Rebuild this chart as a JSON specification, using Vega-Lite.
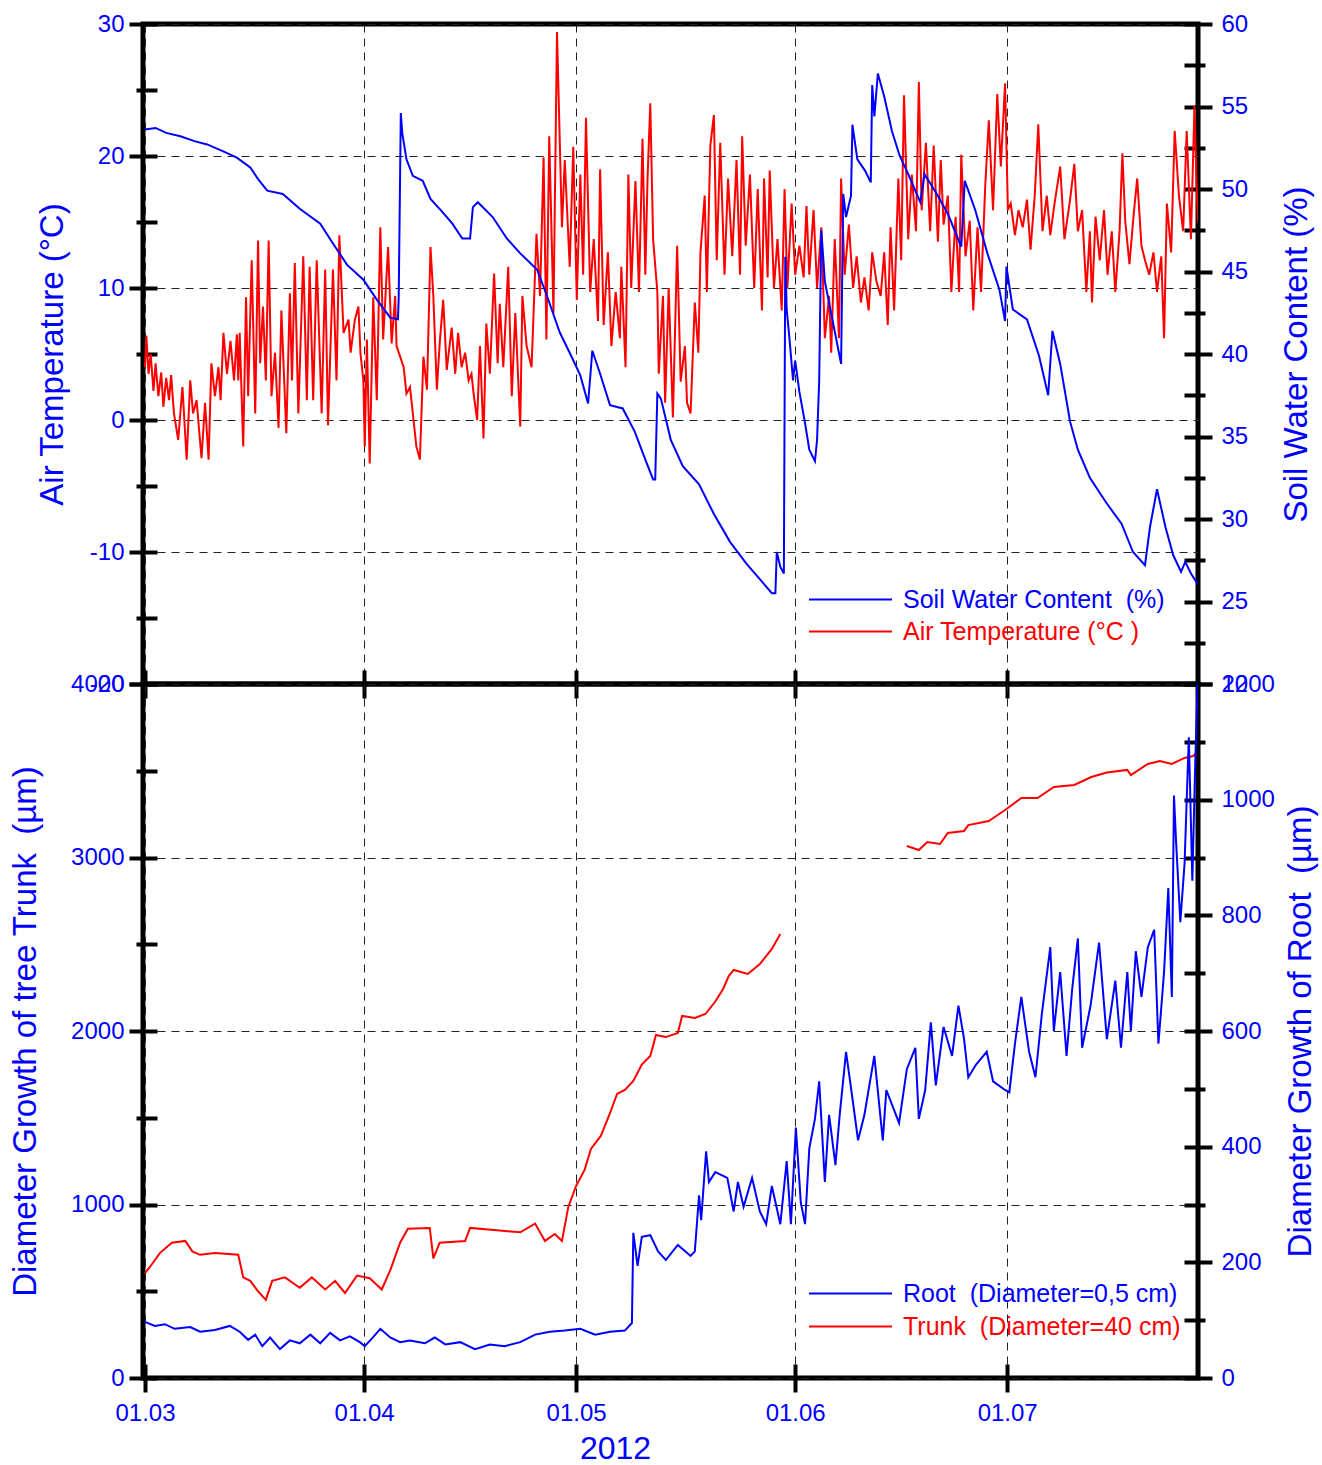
{
"$schema": "https://vega.github.io/schema/vega-lite/v6.json",
"background": "white",
"padding": {"left": 7, "top": 9, "right": 5, "bottom": 5},
"config": {
  "font": "Liberation Sans",
  "view": {"stroke": "black", "strokeWidth": 5},
  "axis": {"labelFont": "Liberation Sans", "titleFont": "Liberation Sans", "labelColor": "#0000ff", "titleColor": "#0000ff", "labelFontSize": 24, "titleFontSize": 33, "titleFontWeight": "normal", "tickColor": "black", "tickWidth": 4, "domain": false, "gridColor": "#222222", "gridDash": [8, 6], "gridWidth": 1, "labelOverlap": false, "labelFlush": false},
  "legend": {"labelFont": "Liberation Sans", "labelFontSize": 25, "labelLimit": 600, "symbolType": "stroke", "symbolSize": 6889, "symbolStrokeWidth": 2, "labelOffset": 10, "padding": 0, "orient": "none", "title": null}
},
"datasets": {
  "tempData": [
{"day":0,"value":4.0},{"day":0.2,"value":6.4},{"day":0.5,"value":3.5},{"day":0.8,"value":5.0},{"day":1.2,"value":2.2},{"day":1.5,"value":4.3},{"day":1.9,"value":1.8},{"day":2.3,"value":3.6},{"day":2.6,"value":1.0},{"day":3.0,"value":3.2},{"day":3.4,"value":1.5},{"day":3.7,"value":3.4},{"day":4.1,"value":0.5},{"day":4.7,"value":-1.5},{"day":5.3,"value":2.5},{"day":5.9,"value":-3.0},{"day":6.4,"value":3.0},{"day":6.8,"value":0.5},{"day":7.3,"value":1.5},{"day":8.0,"value":-2.9},{"day":8.5,"value":1.3},{"day":9.0,"value":-3.0},{"day":9.4,"value":4.3},{"day":9.9,"value":1.8},{"day":10.4,"value":4.0},{"day":10.7,"value":1.5},{"day":11.1,"value":6.6},{"day":11.6,"value":3.5},{"day":12.1,"value":6.0},{"day":12.6,"value":3.0},{"day":13.0,"value":6.5},{"day":13.2,"value":3.0},{"day":13.4,"value":6.6},{"day":13.9,"value":-2.0},{"day":14.3,"value":9.3},{"day":14.6,"value":1.8},{"day":15.1,"value":12.1},{"day":15.6,"value":0.5},{"day":16.0,"value":13.6},{"day":16.3,"value":4.3},{"day":16.7,"value":8.6},{"day":17.1,"value":3.0},{"day":17.5,"value":13.6},{"day":17.9,"value":1.8},{"day":18.4,"value":5.1},{"day":18.9,"value":-0.6},{"day":19.3,"value":8.3},{"day":20.0,"value":-1.0},{"day":20.5,"value":9.6},{"day":20.8,"value":3.0},{"day":21.2,"value":11.9},{"day":21.7,"value":0.5},{"day":22.4,"value":12.4},{"day":22.9,"value":1.5},{"day":23.3,"value":11.6},{"day":23.8,"value":1.5},{"day":24.3,"value":12.1},{"day":25.0,"value":0.5},{"day":25.5,"value":11.4},{"day":25.9,"value":-0.4},{"day":26.6,"value":11.4},{"day":27.1,"value":3.0},{"day":27.5,"value":14.0},{"day":28.1,"value":6.6},{"day":28.8,"value":7.6},{"day":29.1,"value":5.1},{"day":29.7,"value":7.6},{"day":30.2,"value":8.6},{"day":30.5,"value":5.0},{"day":30.9,"value":3.0},{"day":31.1,"value":-2.0},{"day":31.4,"value":6.1},{"day":31.8,"value":-3.3},{"day":32.3,"value":9.3},{"day":32.8,"value":1.5},{"day":33.3,"value":14.6},{"day":33.7,"value":6.1},{"day":34.4,"value":13.1},{"day":34.9,"value":5.8},{"day":35.4,"value":9.4},{"day":35.6,"value":5.6},{"day":36.1,"value":4.8},{"day":36.6,"value":4.0},{"day":37.0,"value":2.0},{"day":37.5,"value":2.5},{"day":38.0,"value":0.0},{"day":38.4,"value":-2.0},{"day":38.9,"value":-3.0},{"day":39.4,"value":4.8},{"day":39.9,"value":2.3},{"day":40.4,"value":13.1},{"day":40.8,"value":9.4},{"day":41.3,"value":2.3},{"day":41.7,"value":5.8},{"day":42.2,"value":9.1},{"day":42.7,"value":3.8},{"day":43.4,"value":7.0},{"day":43.9,"value":3.5},{"day":44.3,"value":6.6},{"day":44.8,"value":4.0},{"day":45.3,"value":5.1},{"day":45.8,"value":3.0},{"day":46.2,"value":3.5},{"day":46.5,"value":2.0},{"day":47.0,"value":0.0},{"day":47.4,"value":5.6},{"day":47.9,"value":-1.4},{"day":48.3,"value":7.3},{"day":48.8,"value":3.5},{"day":49.4,"value":11.1},{"day":49.9,"value":4.3},{"day":50.2,"value":8.8},{"day":50.7,"value":4.0},{"day":51.4,"value":11.6},{"day":51.9,"value":1.8},{"day":52.4,"value":8.1},{"day":53.1,"value":-0.5},{"day":53.4,"value":9.4},{"day":54.0,"value":5.6},{"day":54.7,"value":4.0},{"day":55.4,"value":14.1},{"day":55.9,"value":9.4},{"day":56.4,"value":19.9},{"day":56.8,"value":6.1},{"day":57.2,"value":21.5},{"day":57.8,"value":8.1},{"day":58.3,"value":29.4},{"day":59.0,"value":14.6},{"day":59.4,"value":19.7},{"day":60.1,"value":11.6},{"day":60.6,"value":20.7},{"day":61.1,"value":9.1},{"day":61.6,"value":18.6},{"day":62.0,"value":11.0},{"day":62.4,"value":22.9},{"day":63.0,"value":9.7},{"day":63.5,"value":13.7},{"day":64.1,"value":7.5},{"day":64.4,"value":19.0},{"day":64.9,"value":7.2},{"day":65.5,"value":12.7},{"day":66.0,"value":5.6},{"day":66.6,"value":9.7},{"day":67.2,"value":6.2},{"day":67.4,"value":11.6},{"day":68.0,"value":4.0},{"day":68.4,"value":18.6},{"day":68.8,"value":10.0},{"day":69.4,"value":18.1},{"day":69.9,"value":9.7},{"day":70.4,"value":21.3},{"day":70.8,"value":11.0},{"day":71.1,"value":18.1},{"day":71.5,"value":24.0},{"day":71.9,"value":13.7},{"day":72.5,"value":9.7},{"day":72.7,"value":3.5},{"day":73.3,"value":9.4},{"day":73.6,"value":1.3},{"day":74.1,"value":10.0},{"day":74.7,"value":0.2},{"day":75.3,"value":13.2},{"day":75.8,"value":2.9},{"day":76.4,"value":5.6},{"day":76.7,"value":1.3},{"day":77.2,"value":0.5},{"day":77.8,"value":8.9},{"day":78.3,"value":5.1},{"day":78.6,"value":12.7},{"day":79.2,"value":17.0},{"day":79.5,"value":9.7},{"day":80.0,"value":20.8},{"day":80.5,"value":23.1},{"day":80.9,"value":12.1},{"day":81.4,"value":21.0},{"day":82.0,"value":11.0},{"day":82.5,"value":18.3},{"day":83.1,"value":12.4},{"day":83.7,"value":19.7},{"day":84.2,"value":11.0},{"day":84.5,"value":21.5},{"day":85.0,"value":13.2},{"day":85.6,"value":18.6},{"day":86.2,"value":10.0},{"day":86.7,"value":17.5},{"day":87.3,"value":8.3},{"day":87.6,"value":18.3},{"day":88.1,"value":10.8},{"day":88.4,"value":18.9},{"day":89.0,"value":10.0},{"day":89.5,"value":13.7},{"day":90.1,"value":8.3},{"day":90.5,"value":17.5},{"day":90.9,"value":10.0},{"day":91.5,"value":16.4},{"day":92.0,"value":11.0},{"day":92.6,"value":13.2},{"day":93.2,"value":10.8},{"day":93.6,"value":16.2},{"day":94.0,"value":11.0},{"day":94.6,"value":15.9},{"day":95.1,"value":10.0},{"day":95.7,"value":14.6},{"day":96.2,"value":6.2},{"day":96.8,"value":9.4},{"day":97.1,"value":5.1},{"day":97.6,"value":13.7},{"day":98.2,"value":6.2},{"day":98.5,"value":18.3},{"day":99.0,"value":11.0},{"day":99.6,"value":14.8},{"day":100.2,"value":10.0},{"day":100.7,"value":12.4},{"day":101.3,"value":8.9},{"day":101.8,"value":10.8},{"day":102.4,"value":8.3},{"day":102.9,"value":12.7},{"day":103.5,"value":10.5},{"day":104.1,"value":9.4},{"day":104.6,"value":12.7},{"day":105.1,"value":7.2},{"day":105.5,"value":14.6},{"day":106.0,"value":8.3},{"day":106.6,"value":18.3},{"day":107.0,"value":12.1},{"day":107.4,"value":24.6},{"day":108.0,"value":13.7},{"day":108.5,"value":18.6},{"day":109.1,"value":14.3},{"day":109.5,"value":25.6},{"day":109.9,"value":15.9},{"day":110.5,"value":21.0},{"day":111.1,"value":14.3},{"day":111.6,"value":20.8},{"day":112.2,"value":13.5},{"day":112.6,"value":19.7},{"day":113.0,"value":14.8},{"day":113.6,"value":17.0},{"day":114.1,"value":9.7},{"day":114.7,"value":15.4},{"day":115.2,"value":9.7},{"day":115.5,"value":20.1},{"day":116.1,"value":12.4},{"day":116.7,"value":15.1},{"day":117.2,"value":8.3},{"day":117.8,"value":14.6},{"day":118.3,"value":9.7},{"day":118.9,"value":17.8},{"day":119.4,"value":22.7},{"day":120.0,"value":15.9},{"day":120.6,"value":24.7},{"day":121.1,"value":19.2},{"day":121.7,"value":25.5},{"day":122.1,"value":15.9},{"day":122.5,"value":16.4},{"day":123.1,"value":14.0},{"day":123.6,"value":15.9},{"day":124.2,"value":14.6},{"day":124.8,"value":16.7},{"day":125.3,"value":12.9},{"day":125.9,"value":17.0},{"day":126.4,"value":22.4},{"day":127.0,"value":14.3},{"day":127.6,"value":17.0},{"day":128.1,"value":14.0},{"day":128.7,"value":16.4},{"day":129.5,"value":19.2},{"day":130.1,"value":13.7},{"day":130.9,"value":16.7},{"day":131.5,"value":19.4},{"day":132.0,"value":14.3},{"day":132.6,"value":15.9},{"day":133.2,"value":9.7},{"day":133.7,"value":14.3},{"day":134.0,"value":8.9},{"day":134.5,"value":15.4},{"day":135.1,"value":12.1},{"day":135.7,"value":15.9},{"day":136.2,"value":11.0},{"day":136.8,"value":14.3},{"day":137.3,"value":9.7},{"day":137.9,"value":14.3},{"day":138.3,"value":20.2},{"day":138.7,"value":15.1},{"day":139.3,"value":11.8},{"day":139.9,"value":15.6},{"day":140.4,"value":18.3},{"day":141.0,"value":13.2},{"day":141.5,"value":12.1},{"day":142.1,"value":11.0},{"day":142.7,"value":12.7},{"day":143.2,"value":9.7},{"day":143.8,"value":12.4},{"day":144.2,"value":6.2},{"day":144.6,"value":16.4},{"day":145.2,"value":12.7},{"day":145.7,"value":21.9},{"day":146.3,"value":17.0},{"day":146.9,"value":14.3},{"day":147.4,"value":21.9},{"day":148.0,"value":13.7},{"day":148.5,"value":23.8},{"day":148.8,"value":17.8},{"day":149.0,"value":15.0}
  ],
  "soilData": [
{"day":0,"value":53.6},{"day":1.5,"value":53.7},{"day":3,"value":53.4},{"day":5,"value":53.2},{"day":7,"value":52.9},{"day":8.8,"value":52.7},{"day":11,"value":52.3},{"day":13,"value":51.9},{"day":14.9,"value":51.3},{"day":16,"value":50.6},{"day":17.3,"value":49.9},{"day":19.5,"value":49.7},{"day":21.9,"value":48.8},{"day":24.8,"value":47.9},{"day":26.6,"value":46.7},{"day":28.6,"value":45.4},{"day":30.9,"value":44.5},{"day":32.8,"value":43.3},{"day":34.7,"value":42.2},{"day":35.8,"value":42.1},{"day":35.9,"value":43.4},{"day":36.2,"value":54.6},{"day":36.4,"value":53.4},{"day":37.0,"value":51.8},{"day":37.9,"value":50.8},{"day":39.3,"value":50.5},{"day":40.4,"value":49.4},{"day":42.1,"value":48.6},{"day":43.5,"value":47.9},{"day":44.9,"value":47.0},{"day":46.0,"value":47.0},{"day":46.4,"value":48.9},{"day":47.1,"value":49.2},{"day":49.2,"value":48.3},{"day":51.2,"value":47.0},{"day":53.1,"value":46.1},{"day":55.5,"value":45.1},{"day":56.9,"value":43.5},{"day":58.7,"value":41.3},{"day":60.4,"value":39.8},{"day":61.6,"value":38.7},{"day":62.7,"value":37.0},{"day":63.3,"value":40.2},{"day":64.4,"value":38.8},{"day":65.8,"value":36.9},{"day":67.6,"value":36.7},{"day":69.3,"value":35.3},{"day":70.8,"value":33.6},{"day":71.9,"value":32.4},{"day":72.2,"value":32.4},{"day":72.5,"value":37.6},{"day":73.0,"value":37.3},{"day":74.4,"value":34.8},{"day":76.1,"value":33.2},{"day":78.4,"value":32.1},{"day":80.5,"value":30.3},{"day":82.8,"value":28.6},{"day":85.1,"value":27.3},{"day":87.3,"value":26.2},{"day":88.7,"value":25.5},{"day":89.2,"value":25.5},{"day":89.4,"value":28.0},{"day":89.9,"value":27.1},{"day":90.4,"value":26.7},{"day":90.6,"value":45.9},{"day":90.8,"value":42.7},{"day":91.2,"value":40.9},{"day":91.7,"value":38.4},{"day":92.0,"value":39.6},{"day":92.6,"value":37.7},{"day":93.4,"value":35.8},{"day":94.0,"value":34.2},{"day":94.8,"value":33.5},{"day":95.1,"value":34.8},{"day":95.4,"value":38.4},{"day":95.7,"value":47.5},{"day":96.2,"value":44.4},{"day":97.4,"value":41.8},{"day":98.5,"value":39.4},{"day":98.8,"value":49.7},{"day":99.2,"value":48.3},{"day":99.9,"value":49.6},{"day":100.1,"value":53.9},{"day":100.8,"value":51.8},{"day":101.9,"value":51.1},{"day":102.7,"value":50.4},{"day":102.9,"value":56.3},{"day":103.2,"value":54.4},{"day":103.7,"value":57.0},{"day":104.6,"value":55.6},{"day":105.7,"value":53.5},{"day":106.8,"value":52.0},{"day":108.0,"value":50.9},{"day":109.7,"value":49.2},{"day":110.3,"value":50.9},{"day":111.9,"value":49.8},{"day":113.6,"value":48.5},{"day":115.5,"value":46.5},{"day":116.0,"value":50.5},{"day":117.5,"value":48.7},{"day":119.2,"value":46.1},{"day":120.9,"value":43.9},{"day":121.7,"value":42.0},{"day":121.9,"value":45.3},{"day":122.8,"value":42.7},{"day":124.8,"value":42.1},{"day":126.5,"value":39.9},{"day":127.8,"value":37.5},{"day":128.4,"value":41.4},{"day":129.5,"value":39.4},{"day":130.9,"value":35.9},{"day":132.0,"value":34.2},{"day":133.7,"value":32.5},{"day":136.0,"value":31.0},{"day":138.2,"value":29.7},{"day":139.8,"value":28.0},{"day":141.5,"value":27.2},{"day":142.2,"value":29.5},{"day":143.2,"value":31.8},{"day":144.4,"value":29.5},{"day":145.5,"value":27.8},{"day":146.6,"value":26.8},{"day":147.2,"value":27.4},{"day":148.0,"value":26.7},{"day":148.9,"value":26.1}
  ],
  "trunkData": [
{"day":0,"value":605,"seg":1},{"day":0.7,"value":640,"seg":1},{"day":2.1,"value":720,"seg":1},{"day":3.8,"value":780,"seg":1},{"day":5.7,"value":790,"seg":1},{"day":6.7,"value":730,"seg":1},{"day":7.8,"value":710,"seg":1},{"day":9.9,"value":720,"seg":1},{"day":13.2,"value":710,"seg":1},{"day":13.9,"value":580,"seg":1},{"day":14.9,"value":560,"seg":1},{"day":16.0,"value":500,"seg":1},{"day":17.1,"value":450,"seg":1},{"day":18.0,"value":560,"seg":1},{"day":19.8,"value":580,"seg":1},{"day":21.9,"value":520,"seg":1},{"day":23.6,"value":580,"seg":1},{"day":25.5,"value":510,"seg":1},{"day":26.9,"value":560,"seg":1},{"day":28.3,"value":490,"seg":1},{"day":30.0,"value":590,"seg":1},{"day":31.8,"value":575,"seg":1},{"day":33.5,"value":510,"seg":1},{"day":34.7,"value":620,"seg":1},{"day":36.1,"value":780,"seg":1},{"day":37.2,"value":860,"seg":1},{"day":40.3,"value":865,"seg":1},{"day":40.8,"value":690,"seg":1},{"day":41.7,"value":780,"seg":1},{"day":45.3,"value":790,"seg":1},{"day":46.0,"value":865,"seg":1},{"day":50.2,"value":850,"seg":1},{"day":53.1,"value":840,"seg":1},{"day":55.2,"value":890,"seg":1},{"day":56.6,"value":790,"seg":1},{"day":58.0,"value":830,"seg":1},{"day":59.0,"value":790,"seg":1},{"day":59.9,"value":986,"seg":1},{"day":61.0,"value":1107,"seg":1},{"day":62.2,"value":1199,"seg":1},{"day":63.1,"value":1320,"seg":1},{"day":64.5,"value":1395,"seg":1},{"day":65.7,"value":1516,"seg":1},{"day":66.8,"value":1637,"seg":1},{"day":67.9,"value":1660,"seg":1},{"day":69.1,"value":1712,"seg":1},{"day":70.3,"value":1807,"seg":1},{"day":71.5,"value":1856,"seg":1},{"day":72.3,"value":1977,"seg":1},{"day":73.7,"value":1965,"seg":1},{"day":75.4,"value":1989,"seg":1},{"day":76.0,"value":2087,"seg":1},{"day":77.8,"value":2075,"seg":1},{"day":79.3,"value":2098,"seg":1},{"day":80.7,"value":2170,"seg":1},{"day":81.8,"value":2242,"seg":1},{"day":82.6,"value":2317,"seg":1},{"day":83.3,"value":2352,"seg":1},{"day":85.3,"value":2329,"seg":1},{"day":87.0,"value":2386,"seg":1},{"day":88.7,"value":2473,"seg":1},{"day":89.9,"value":2559,"seg":1},
{"day":107.8,"value":3066,"seg":2},{"day":109.5,"value":3043,"seg":2},{"day":110.7,"value":3089,"seg":2},{"day":112.5,"value":3078,"seg":2},{"day":113.6,"value":3141,"seg":2},{"day":115.9,"value":3153,"seg":2},{"day":116.5,"value":3187,"seg":2},{"day":119.4,"value":3210,"seg":2},{"day":121.7,"value":3274,"seg":2},{"day":124.0,"value":3343,"seg":2},{"day":126.3,"value":3343,"seg":2},{"day":128.6,"value":3407,"seg":2},{"day":131.5,"value":3418,"seg":2},{"day":133.9,"value":3464,"seg":2},{"day":136.1,"value":3490,"seg":2},{"day":139.0,"value":3505,"seg":2},{"day":139.5,"value":3475,"seg":2},{"day":141.9,"value":3539,"seg":2},{"day":143.6,"value":3556,"seg":2},{"day":145.3,"value":3539,"seg":2},{"day":147.1,"value":3574,"seg":2},{"day":148.3,"value":3585,"seg":2},{"day":148.7,"value":3600,"seg":2}
  ],
  "rootData": [
{"day":0,"value":97},{"day":1.4,"value":90},{"day":2.8,"value":93},{"day":4.2,"value":85},{"day":6.4,"value":88},{"day":7.8,"value":80},{"day":9.9,"value":83},{"day":12.0,"value":90},{"day":13.4,"value":80},{"day":14.6,"value":66},{"day":15.6,"value":75},{"day":16.6,"value":55},{"day":17.7,"value":70},{"day":19.1,"value":50},{"day":20.5,"value":65},{"day":21.9,"value":60},{"day":23.4,"value":75},{"day":24.8,"value":60},{"day":26.2,"value":78},{"day":27.6,"value":65},{"day":29.0,"value":72},{"day":30.4,"value":62},{"day":31.1,"value":55},{"day":32.1,"value":68},{"day":33.3,"value":85},{"day":34.7,"value":70},{"day":36.1,"value":62},{"day":37.5,"value":65},{"day":39.6,"value":60},{"day":41.0,"value":70},{"day":42.5,"value":58},{"day":44.6,"value":62},{"day":46.7,"value":50},{"day":48.8,"value":58},{"day":50.9,"value":55},{"day":53.1,"value":62},{"day":55.2,"value":75},{"day":57.3,"value":80},{"day":59.4,"value":82},{"day":61.6,"value":85},{"day":63.7,"value":75},{"day":65.8,"value":80},{"day":67.9,"value":82},{"day":68.9,"value":95},{"day":69.1,"value":251},{"day":69.7,"value":194},{"day":70.3,"value":244},{"day":71.5,"value":247},{"day":72.6,"value":219},{"day":73.7,"value":204},{"day":75.4,"value":230},{"day":77.2,"value":211},{"day":77.8,"value":219},{"day":78.4,"value":316},{"day":78.7,"value":273},{"day":79.4,"value":392},{"day":79.8,"value":339},{"day":80.7,"value":356},{"day":82.4,"value":346},{"day":83.3,"value":288},{"day":83.9,"value":339},{"day":84.7,"value":296},{"day":85.9,"value":346},{"day":87.0,"value":288},{"day":87.9,"value":266},{"day":88.7,"value":332},{"day":89.9,"value":266},{"day":90.8,"value":375},{"day":91.4,"value":266},{"day":92.1,"value":433},{"day":92.8,"value":303},{"day":93.4,"value":266},{"day":94.0,"value":397},{"day":94.8,"value":448},{"day":95.4,"value":513},{"day":96.2,"value":339},{"day":96.8,"value":455},{"day":97.7,"value":368},{"day":98.3,"value":455},{"day":99.2,"value":564},{"day":100.1,"value":484},{"day":100.9,"value":411},{"day":101.8,"value":455},{"day":103.2,"value":557},{"day":104.4,"value":411},{"day":104.9,"value":498},{"day":106.7,"value":441},{"day":107.8,"value":534},{"day":109.0,"value":571},{"day":109.5,"value":448},{"day":110.4,"value":498},{"day":111.2,"value":615},{"day":111.9,"value":506},{"day":113.0,"value":607},{"day":114.2,"value":557},{"day":115.1,"value":644},{"day":115.9,"value":586},{"day":116.5,"value":520},{"day":117.6,"value":542},{"day":119.1,"value":564},{"day":120.0,"value":513},{"day":121.7,"value":498},{"day":122.3,"value":494},{"day":123.1,"value":578},{"day":124.0,"value":659},{"day":125.1,"value":564},{"day":126.0,"value":520},{"day":126.9,"value":629},{"day":128.1,"value":745},{"day":128.6,"value":600},{"day":129.5,"value":702},{"day":130.4,"value":557},{"day":131.2,"value":673},{"day":132.0,"value":760},{"day":132.6,"value":571},{"day":133.8,"value":644},{"day":135.0,"value":753},{"day":136.1,"value":586},{"day":137.3,"value":687},{"day":138.1,"value":571},{"day":139.0,"value":702},{"day":139.5,"value":600},{"day":140.2,"value":738},{"day":141.0,"value":659},{"day":141.9,"value":745},{"day":142.8,"value":775},{"day":143.4,"value":578},{"day":144.2,"value":702},{"day":144.8,"value":847},{"day":145.3,"value":659},{"day":145.6,"value":1007},{"day":145.9,"value":927},{"day":146.5,"value":788},{"day":147.1,"value":890},{"day":147.7,"value":1108},{"day":148.2,"value":860},{"day":148.6,"value":1060},{"day":148.95,"value":1200}
  ]
},
"spacing": 0,
"bounds": "flush",
"vconcat": [
  {
    "width": 1055,
    "height": 660,
    "layer": [
      {
        "data": {"name": "tempData"},
        "mark": {"type": "line", "strokeWidth": 2, "clip": true},
        "encoding": {
          "x": {"field": "day", "type": "quantitative", "scale": {"domain": [-0.28, 149.0], "nice": false, "zero": false},
                "axis": {"values": [0, 31, 61, 92, 122], "labels": false, "title": null, "tickSize": 28, "offset": -14, "grid": true}},
          "y": {"field": "value", "type": "quantitative", "scale": {"domain": [-20, 30], "nice": false, "zero": false},
                "axis": {"title": "Air Temperature (°C)", "values": [-20, -15, -10, -5, 0, 5, 10, 15, 20, 25, 30],
                         "labelExpr": "datum.value % 10 === 0 ? '' + datum.value : ''",
                         "tickSize": {"condition": {"test": "datum.value % 10 === 0", "value": 28}, "value": 21},
                         "offset": -14, "labelPadding": 5, "titlePadding": 20, "grid": true,
                         "gridOpacity": {"condition": {"test": "datum.value % 10 === 0", "value": 1}, "value": 0}}},
          "color": {"datum": "Air Temperature (°C )", "scale": {"range": ["#ff0000"]},
                    "legend": {"legendX": 665, "legendY": 565, "labelColor": "#ff0000"}}
        }
      },
      {
        "data": {"name": "soilData"},
        "mark": {"type": "line", "strokeWidth": 2, "clip": true},
        "encoding": {
          "x": {"field": "day", "type": "quantitative", "scale": {"domain": [-0.28, 149.0], "nice": false, "zero": false},
                "axis": {"values": [0, 31, 61, 92, 122], "labels": false, "title": null, "tickSize": 28, "offset": -14, "grid": true}},
          "y": {"field": "value", "type": "quantitative", "scale": {"domain": [20, 60], "nice": false, "zero": false},
                "axis": {"title": "Soil Water Content (%)", "orient": "right", "values": [20, 22.5, 25, 27.5, 30, 32.5, 35, 37.5, 40, 42.5, 45, 47.5, 50, 52.5, 55, 57.5, 60],
                         "labelExpr": "datum.value % 5 === 0 ? '' + datum.value : ''",
                         "tickSize": {"condition": {"test": "datum.value % 5 === 0", "value": 28}, "value": 21},
                         "offset": -14, "labelPadding": 9, "titlePadding": 33, "titleAngle": -90, "titleBaseline": "top", "grid": false}},
          "color": {"datum": "Soil Water Content \u00a0(%)", "scale": {"range": ["#0000ff"]},
                    "legend": {"legendX": 665, "legendY": 533, "labelColor": "#0000ff"}}
        }
      }
    ],
    "resolve": {"scale": {"y": "independent", "color": "independent"}}
  },
  {
    "width": 1055,
    "height": 694,
    "layer": [
      {
        "data": {"name": "trunkData"},
        "mark": {"type": "line", "strokeWidth": 2, "clip": true},
        "encoding": {
          "x": {"field": "day", "type": "quantitative", "scale": {"domain": [-0.28, 149.0], "nice": false, "zero": false},
                "axis": {"values": [0, 31, 61, 92, 122], "labelExpr": "timeFormat(datetime(2012, 2, 1 + datum.value), '%d.%m')",
                         "title": "2012", "titleFontSize": 32, "titleX": 472, "titleAlign": "center", "titlePadding": 8,
                         "tickSize": 28, "offset": -14, "labelPadding": 9, "grid": true}},
          "y": {"field": "value", "type": "quantitative", "scale": {"domain": [0, 4000], "nice": false, "zero": false},
                "axis": {"title": "Diameter Growth of tree Trunk \u00a0(µm)", "values": [0, 500, 1000, 1500, 2000, 2500, 3000, 3500, 4000],
                         "labelExpr": "datum.value % 1000 === 0 ? '' + datum.value : ''",
                         "tickSize": {"condition": {"test": "datum.value % 1000 === 0", "value": 28}, "value": 21},
                         "offset": -14, "labelPadding": 5, "titlePadding": 28, "grid": true,
                         "gridOpacity": {"condition": {"test": "datum.value % 1000 === 0", "value": 1}, "value": 0}}},
          "detail": {"field": "seg", "type": "nominal"},
          "color": {"datum": "Trunk \u00a0(Diameter=40 cm)", "scale": {"range": ["#ff0000"]},
                    "legend": {"legendX": 665, "legendY": 600, "labelColor": "#ff0000"}}
        }
      },
      {
        "data": {"name": "rootData"},
        "mark": {"type": "line", "strokeWidth": 2, "clip": true},
        "encoding": {
          "x": {"field": "day", "type": "quantitative", "scale": {"domain": [-0.28, 149.0], "nice": false, "zero": false},
                "axis": {"values": [0, 31, 61, 92, 122], "labelExpr": "timeFormat(datetime(2012, 2, 1 + datum.value), '%d.%m')",
                         "title": "2012", "titleFontSize": 32, "titleX": 472, "titleAlign": "center", "titlePadding": 8,
                         "tickSize": 28, "offset": -14, "labelPadding": 9, "grid": true}},
          "y": {"field": "value", "type": "quantitative", "scale": {"domain": [0, 1200], "nice": false, "zero": false},
                "axis": {"title": "Diameter Growth of Root \u00a0(µm)", "orient": "right", "values": [0, 100, 200, 300, 400, 500, 600, 700, 800, 900, 1000, 1100, 1200],
                         "labelExpr": "datum.value % 200 === 0 ? '' + datum.value : ''",
                         "tickSize": {"condition": {"test": "datum.value % 200 === 0", "value": 28}, "value": 21},
                         "offset": -14, "labelPadding": 9, "titlePadding": 10, "titleAngle": -90, "titleBaseline": "top", "grid": false}},
          "color": {"datum": "Root \u00a0(Diameter=0,5 cm)", "scale": {"range": ["#0000ff"]},
                    "legend": {"legendX": 665, "legendY": 567, "labelColor": "#0000ff"}}
        }
      }
    ],
    "resolve": {"scale": {"y": "independent", "color": "independent"}}
  }
]
}
